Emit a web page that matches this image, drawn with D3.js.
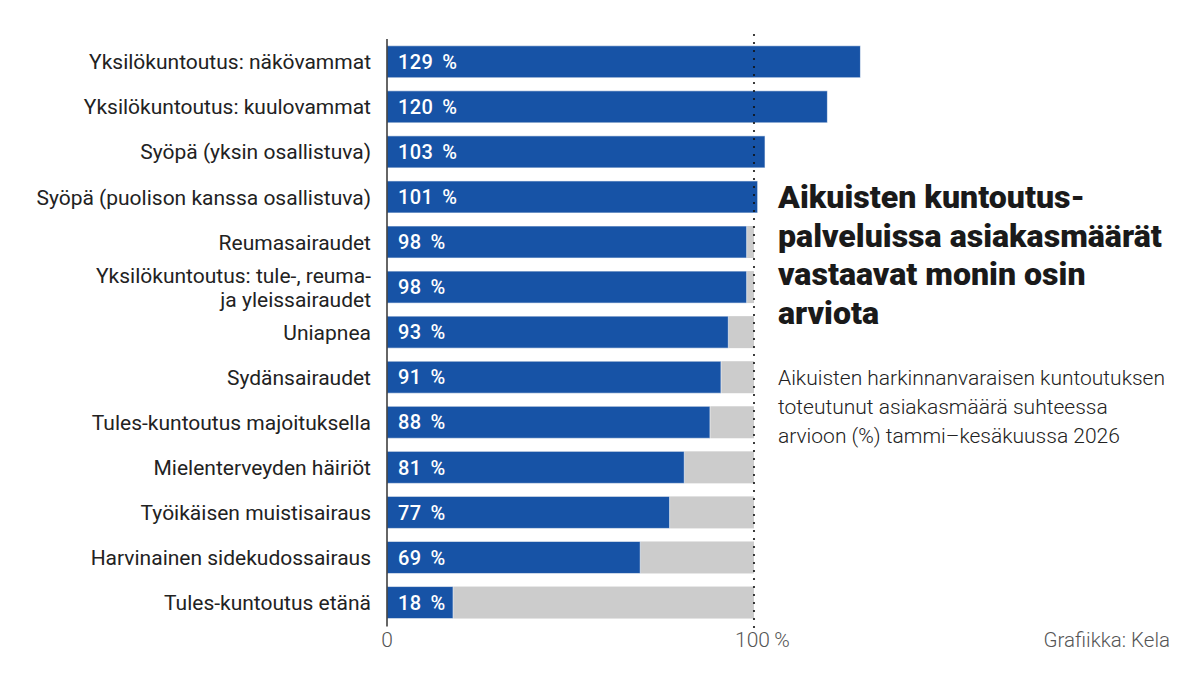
<!DOCTYPE html>
<html>
<head>
<meta charset="utf-8">
<script src="https://cdn.jsdelivr.net/npm/d3@7"></script>
<style>
  body { margin: 0; background: #fff; }
  svg { display: block; font-family: "Roboto", "Noto Sans", sans-serif; }
</style>
</head>
<body>
<div id="chart"></div>
<script>
const categories = [
  "Yksilökuntoutus: näkövammat",
  "Yksilökuntoutus: kuulovammat",
  "Syöpä (yksin osallistuva)",
  "Syöpä (puolison kanssa osallistuva)",
  "Reumasairaudet",
  "Yksilökuntoutus: tule-, reuma-|ja yleissairaudet",
  "Uniapnea",
  "Sydänsairaudet",
  "Tules-kuntoutus majoituksella",
  "Mielenterveyden häiriöt",
  "Työikäisen muistisairaus",
  "Harvinainen sidekudossairaus",
  "Tules-kuntoutus etänä"
];
const values = [129, 120, 103, 101, 98, 98, 93, 91, 88, 81, 77, 69, 18];
const target = 100;
const xTicks = [0, 100];
const titleLines = ["Aikuisten kuntoutus-", "palveluissa asiakasmäärät", "vastaavat monin osin", "arviota"];
const subtitleLines = [
  "Aikuisten harkinnanvaraisen kuntoutuksen",
  "toteutunut asiakasmäärä suhteessa",
  "arvioon (%) tammi\u2013kesäkuussa 2026"
];
const source = "Grafiikka: Kela";

const W = 1200, H = 675;
const margin = { top: 39, left: 387 };
const plotW = 367; // width of 0..100 %

const svg = d3.select("#chart").append("svg")
  .attr("width", W).attr("height", H);

const x = d3.scaleLinear().domain([0, 100]).range([margin.left, margin.left + plotW]);
const y = d3.scaleBand().domain(d3.range(categories.length))
  .range([margin.top, margin.top + 45.1 * categories.length])
  .paddingInner(0.29).paddingOuter(0.15);

const blue = "#1753a6", grey = "#cccccc";

// Grey background to 100 %
svg.append("g").selectAll("rect")
  .data(values)
  .join("rect")
  .attr("x", x(0))
  .attr("y", (d, i) => y(i))
  .attr("width", x(target) - x(0))
  .attr("height", y.bandwidth())
  .attr("fill", grey);

// Blue bars
svg.append("g").selectAll("rect")
  .data(values)
  .join("rect")
  .attr("x", x(0))
  .attr("y", (d, i) => y(i))
  .attr("width", d => x(d) - x(0))
  .attr("height", y.bandwidth())
  .attr("fill", blue)
  .attr("stroke", "#ffffff")
  .attr("stroke-opacity", 0.6)
  .attr("stroke-width", 1);

// Value labels
svg.append("g").selectAll("text")
  .data(values)
  .join("text")
  .attr("x", x(0) + 11)
  .attr("y", (d, i) => y(i) + y.bandwidth() / 2)
  .attr("dy", "0.36em")
  .attr("fill", "#fff")
  .attr("font-size", 20)
  .attr("font-weight", 500)
  .attr("letter-spacing", 0.4)
  .text(d => d + "\u2009\u2009%");

// Category labels
const labels = svg.append("g").selectAll("text")
  .data(categories)
  .join("text")
  .attr("x", margin.left - 16)
  .attr("y", (d, i) => y(i) + y.bandwidth() / 2)
  .attr("text-anchor", "end")
  .attr("fill", "#222")
  .attr("font-size", 21);
labels.each(function (d) {
  const parts = d.split("|");
  const t = d3.select(this);
  parts.forEach((p, j) => {
    t.append("tspan")
      .attr("x", margin.left - 16)
      .attr("dy", j === 0 ? (0.36 - (parts.length - 1) * 0.57) + "em" : "1.14em")
      .text(p);
  });
});

// Y axis line
const yTop = margin.top, yBot = y(categories.length - 1) + y.bandwidth() + 8;
svg.append("line")
  .attr("x1", x(0)).attr("x2", x(0))
  .attr("y1", yTop).attr("y2", yBot)
  .attr("stroke", "#333").attr("stroke-width", 1.5);

// Dotted target line
svg.append("line")
  .attr("x1", x(target)).attr("x2", x(target))
  .attr("y1", yTop - 4).attr("y2", yBot + 6)
  .attr("stroke", "#111").attr("stroke-width", 2.2)
  .attr("stroke-linecap", "round")
  .attr("stroke-dasharray", "0 8");

// X tick labels
svg.append("g").selectAll("text")
  .data(xTicks)
  .join("text")
  .attr("x", d => x(d))
  .attr("y", 647)
  .attr("text-anchor", d => d === 0 ? "middle" : "start")
  .attr("dx", d => d === 0 ? 0 : -19)
  .attr("fill", "#555")
  .attr("font-size", 21)
  .attr("font-weight", 300)
  .text(d => d === 0 ? "0" : d + "\u2009%");

// Title (condensed by horizontal scaling to the reference width)
const titleG = svg.append("g");
const titleTexts = titleG.selectAll("g")
  .data(titleLines)
  .join("g")
  .attr("transform", (d, i) => `translate(778, ${208 + i * 38.5})`)
  .append("text")
  .attr("font-weight", 900)
  .attr("font-size", 32)
  .attr("fill", "#1a1a1a")
  .text(d => d);
const refW = titleTexts.nodes()[1].getComputedTextLength();
const sx = 384 / refW;
titleTexts.attr("transform", `scale(${sx}, 1)`);

// Subtitle
svg.append("g").selectAll("text")
  .data(subtitleLines)
  .join("text")
  .attr("x", 778)
  .attr("y", (d, i) => 385 + i * 29)
  .attr("font-weight", 300)
  .attr("font-size", 21)
  .attr("fill", "#222")
  .text(d => d);

// Source
svg.append("text")
  .attr("x", 1170)
  .attr("y", 647)
  .attr("text-anchor", "end")
  .attr("fill", "#555")
  .attr("font-size", 20.5)
  .attr("font-weight", 300)
  .text(source);
</script>
</body>
</html>
